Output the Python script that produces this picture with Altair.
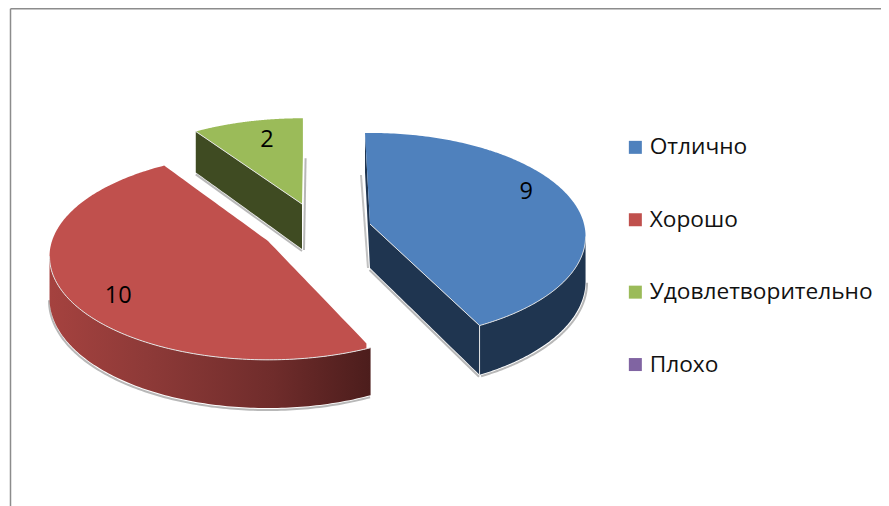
import math
import altair as alt
import pandas as pd

# chart values
categories = ["Отлично", "Хорошо", "Удовлетворительно", "Плохо"]
values = [9, 10, 2, 0]
colors = ["#4F81BD", "#C0504D", "#9BBB59", "#8064A2"]

# 3D look of each drawn slice: apex, radii, perspective, start rotation, label place
LOOK = {
    "Отлично": dict(cx=370, cy=224, a=214, b=102, k=0.12, start=-1.5, h=44, lab=(66.6, 0.827)),
    "Хорошо": dict(cx=268, cy=241, a=216, b=101, k=0.15, start=155.8, h=41, lab=(231.9, 0.815)),
    "Удовлетворительно": dict(cx=302, cy=204, a=210, b=96, k=0.12, start=326.2, h=45, lab=(346.0, 0.75)),
}
total = sum(values)


def span(name):
    v = values[categories.index(name)]
    s = LOOK[name]["start"]
    return s, s + 360 * v / total


def pt(name, deg, f=1.0):
    L = LOOK[name]
    t = math.radians(deg)
    w = 1 + L["k"] * math.cos(t) * f
    return (L["cx"] + L["a"] * math.sin(t) * f / w, L["cy"] - L["b"] * math.cos(t) * f / w, L["h"] / w)


def frange(a, b, n=120):
    return [a + (b - a) * i / n for i in range(n + 1)]


def sector(name):
    """Top face: convex outline cut into vertical spans so that an area mark can fill it."""
    s, e = span(name)
    poly = [pt(name, s, 0)[:2]] + [pt(name, d)[:2] for d in frange(s, e, 160)]
    xs = sorted({round(p[0], 2) for p in poly})
    rows = []
    for x in xs:
        ys = []
        for (x0, y0), (x1, y1) in zip(poly, poly[1:] + poly[:1]):
            if min(x0, x1) <= x <= max(x0, x1):
                if abs(x1 - x0) < 1e-6:
                    ys += [y0, y1]
                else:
                    ys.append(y0 + (y1 - y0) * (x - x0) / (x1 - x0))
        if ys:
            rows.append(dict(cat=name, x=x, y=min(ys), y2=max(ys)))
    return rows


def wall(name, degs=None, radial=None):
    """Side wall from a rim arc (degs) or from a cut edge (radial angle)."""
    rows = []
    if radial is not None:
        for f in frange(0, 1, 30):
            x, y, h = pt(name, radial, f)
            rows.append(dict(x=x, y=y, y2=y + h))
    else:
        for d in degs:
            x, y, h = pt(name, d)
            rows.append(dict(x=x, y=y, y2=y + h))
    return pd.DataFrame(rows).sort_values("x")


X = alt.X("x:Q", scale=alt.Scale(domain=[8, 881], nice=False, zero=False), axis=None)
Y = alt.Y("y:Q", scale=alt.Scale(domain=[8, 498], reverse=True, nice=False, zero=False), axis=None)
Y2 = alt.Y2("y2:Q")


def area(df, fill):
    return alt.Chart(df).mark_area(color=fill, clip=False).encode(x=X, y=Y, y2=Y2)


def line(df, color, width=1.0, opacity=1.0):
    return alt.Chart(df).mark_line(color=color, strokeWidth=width, opacity=opacity).encode(
        x=X, y=Y, order=alt.Order("i:Q")
    )


def path(points, dx=0.0, dy=0.0):
    return pd.DataFrame([dict(i=i, x=p[0] + dx, y=p[1] + dy) for i, p in enumerate(points)])


def wall_bottom(name, degs):
    return [(pt(name, d)[0], pt(name, d)[1] + pt(name, d)[2]) for d in degs]


def radial_pts(name, deg, bottom=False):
    out = []
    for f in (0, 1):
        x, y, h = pt(name, deg, f)
        out.append((x, y + h if bottom else y))
    return out


BLUE, RED, GREEN = categories[0], categories[1], categories[2]
bs, be = span(BLUE)
rs, re_ = span(RED)
gs, ge = span(GREEN)
blue_rim = frange(97, be)
red_rim = frange(rs, 261.5)

shade = "#9a9a9a"
layers = []

# soft shadows along the lower edges
layers += [
    line(path(wall_bottom(BLUE, blue_rim), 1.5, 1.5), shade, 2, 0.7),
    line(path(radial_pts(BLUE, be, True), -0.5, 2), shade, 2, 0.7),
    line(path([(pt(BLUE, bs)[0] - 4, pt(BLUE, bs)[1] + 42), (pt(BLUE, bs, 0)[0] - 2, pt(BLUE, bs, 0)[1] + 44)]), shade, 2, 0.6),
    line(path(wall_bottom(RED, red_rim), -0.5, 2), shade, 2, 0.7),
    line(path(radial_pts(GREEN, gs, True), 0, 2), shade, 2, 0.7),
    line(path([(pt(GREEN, ge)[0] + 2, pt(GREEN, ge)[1] + 40), (pt(GREEN, ge, 0)[0] + 2, pt(GREEN, ge, 0)[1] + 46)]), shade, 2, 0.7),
]

# side walls
red_grad = alt.Gradient(
    gradient="linear", x1=0, x2=1, y1=0, y2=0,
    stops=[
        alt.GradientStop(color="#A5423F", offset=0),
        alt.GradientStop(color="#8E3A38", offset=0.3),
        alt.GradientStop(color="#6F2C2B", offset=0.7),
        alt.GradientStop(color="#4C1D1C", offset=1),
    ],
)
layers += [
    area(wall(BLUE, radial=bs), "#1F3550"),
    area(wall(BLUE, radial=be), "#1F3550"),
    area(wall(BLUE, degs=blue_rim), "#1F3550"),
    area(wall(RED, degs=red_rim), red_grad),
    area(wall(GREEN, radial=gs), "#3F4B22"),
]

# top faces, with the legend
top = pd.DataFrame(sector(BLUE) + sector(RED) + sector(GREEN))
layers.append(
    alt.Chart(top).mark_area(clip=False).encode(
        x=X, y=Y, y2=Y2,
        color=alt.Color(
            "cat:N",
            scale=alt.Scale(domain=categories, range=colors),
            sort=categories,
            legend=alt.Legend(
                title=None, orient="none", legendX=616, legendY=128,
                symbolType="square", symbolSize=169, symbolStrokeWidth=0,
                labelFont="Open Sans", labelFontSize=22.7, labelColor="#111111",
                labelOffset=3, rowPadding=48.4, labelLimit=300, padding=0,
            ),
        ),
    )
)

# light rims
rim = "#E4E4E4"
layers += [
    line(path([pt(BLUE, d)[:2] for d in frange(97, be)]), rim, 1),
    line(path(radial_pts(BLUE, be)), rim, 1),
    line(path([pt(BLUE, be)[:2], (pt(BLUE, be)[0], pt(BLUE, be)[1] + pt(BLUE, be)[2])]), rim, 1),
    line(path([pt(RED, d)[:2] for d in red_rim]), rim, 1),
    line(path(radial_pts(GREEN, gs)), rim, 1),
]

# data labels
lab_rows = []
for name in (BLUE, RED, GREEN):
    d, f = LOOK[name]["lab"]
    x, y, _ = pt(name, d, f)
    lab_rows.append(dict(x=x, y=y, t=str(values[categories.index(name)])))
layers.append(
    alt.Chart(pd.DataFrame(lab_rows)).mark_text(
        font="Open Sans", fontSize=23.5, color="#000000", align="center", baseline="middle"
    ).encode(x=X, y=Y, text="t:N")
)

# chart frame
frame_color = "#8C8C8C"
frame_top = pd.DataFrame({"x": [10.5], "x2": [889], "y": [8.7]})
frame_left = pd.DataFrame({"x": [10.5], "y": [8.7], "y2": [506]})
layers += [
    alt.Chart(frame_top).mark_rule(color=frame_color, strokeWidth=1.5).encode(x=X, x2="x2:Q", y=Y),
    alt.Chart(frame_left).mark_rule(color=frame_color, strokeWidth=1.5).encode(x=X, y=Y, y2=Y2),
]

chart = alt.layer(*layers).properties(
    width=873, height=490,
    padding={"left": 0, "top": 0, "right": 0, "bottom": 8},
    autosize=alt.AutoSizeParams(type="none"),
).configure_view(stroke=None)

chart.save("out.html", embed_options={"renderer": "svg", "actions": False})
